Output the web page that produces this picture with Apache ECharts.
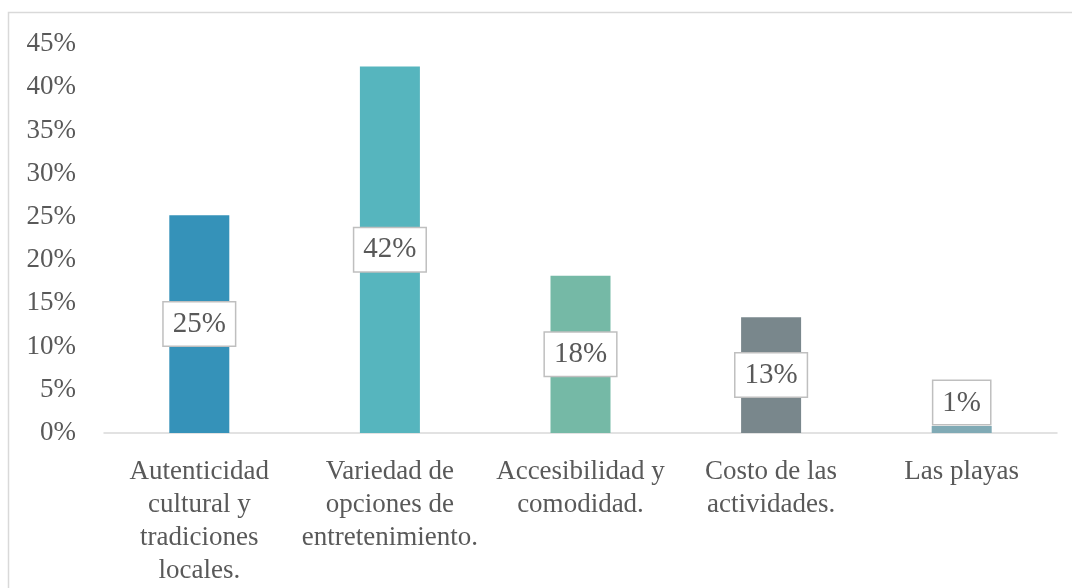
<!DOCTYPE html>
<html>
<head>
<meta charset="utf-8">
<script src="https://cdn.jsdelivr.net/npm/echarts@6/dist/echarts.min.js"></script>
<style>
html,body{margin:0;padding:0;background:#fff;}
#c{width:1072px;height:588px;}
</style>
</head>
<body>
<div id="c"></div>
<script>
const categories = [
  'Autenticidad\ncultural y\ntradiciones\nlocales.',
  'Variedad de\nopciones de\nentretenimiento.',
  'Accesibilidad y\ncomodidad.',
  'Costo de las\nactividades.',
  'Las playas'
];
const values = [0.252, 0.424, 0.182, 0.134, 0.008];
const labelTexts = ['25%', '42%', '18%', '13%', '1%'];
const colors = ['#3592B9', '#56B5BE', '#75B9A6', '#79878C', '#80AAB5'];
const yTicks = { min: 0, max: 0.45, interval: 0.05 };

const FONT = '"Liberation Serif","Times New Roman",serif';
const chart = echarts.init(document.getElementById('c'), null, {renderer: 'canvas'});

const data = values.map((v, i) => {
  const d = {
    value: v,
    itemStyle: { color: colors[i] },
    label: { formatter: labelTexts[i] }
  };
  if (i === values.length - 1) {
    d.label.position = 'top';
    d.label.distance = 2;
  }
  return d;
});

chart.setOption({
  animation: false,
  backgroundColor: '#fff',
  graphic: [{
    type: 'rect',
    shape: { x: 8.5, y: 12.5, width: 1100, height: 620 },
    style: { fill: 'none', stroke: '#d9d9d9', lineWidth: 1.5 },
    silent: true,
    z: -1
  }],
  grid: { left: 104, right: 15, top: 44, bottom: 155, containLabel: false },
  xAxis: {
    type: 'category',
    data: categories,
    axisLine: { show: true, lineStyle: { color: '#d9d9d9', width: 1.5 } },
    axisTick: { show: false },
    axisLabel: {
      interval: 0,
      color: '#595959',
      fontFamily: FONT,
      fontSize: 27,
      lineHeight: 33,
      margin: 22,
      align: 'center'
    },
    splitLine: { show: false }
  },
  yAxis: {
    type: 'value',
    min: yTicks.min,
    max: yTicks.max,
    interval: yTicks.interval,
    axisLine: { show: false },
    axisTick: { show: false },
    splitLine: { show: false },
    axisLabel: {
      color: '#595959',
      fontFamily: FONT,
      fontSize: 27,
      margin: 28,
      formatter: v => Math.round(v * 100) + '%'
    }
  },
  series: [{
    type: 'bar',
    data: data,
    barWidth: 60,
    label: {
      show: true,
      position: 'inside',
      color: '#595959',
      fontFamily: FONT,
      fontSize: 29,
      backgroundColor: '#fff',
      borderColor: '#bfbfbf',
      borderWidth: 1.5,
      padding: [8, 9, 6, 9]
    }
  }]
});
</script>
</body>
</html>
